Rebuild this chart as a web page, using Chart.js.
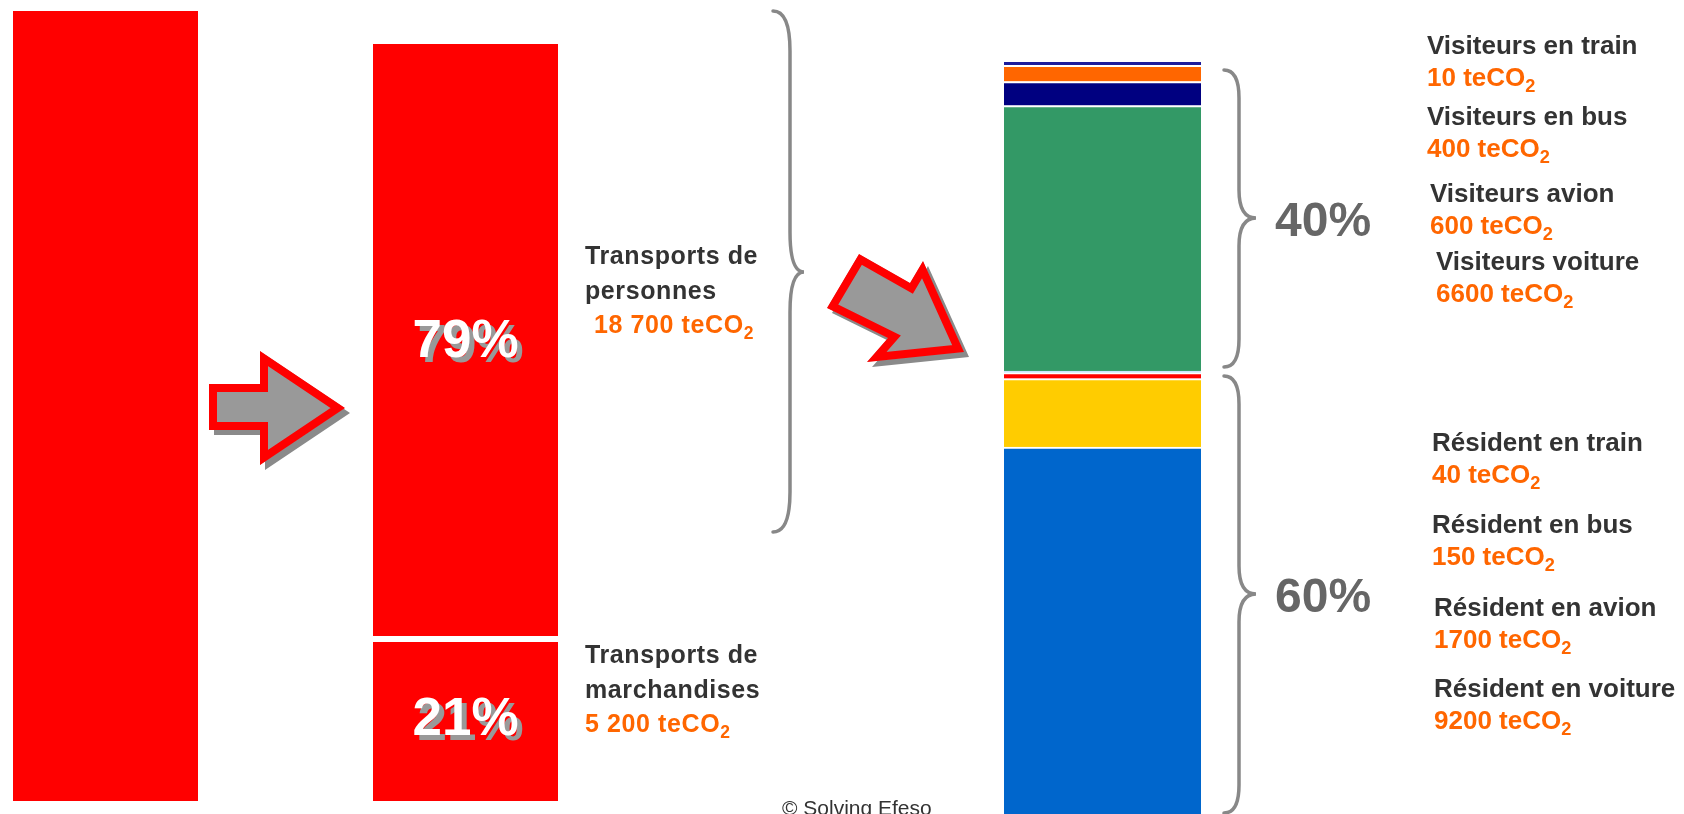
<!DOCTYPE html>
<html lang="fr">
<head>
<meta charset="utf-8">
<title>Transports - teCO2</title>
<script src="https://cdn.jsdelivr.net/npm/chart.js@4/dist/chart.umd.min.js"></script>
<style>
  html, body { margin: 0; padding: 0; background: #fff; }
  body { width: 1684px; height: 814px; overflow: hidden; position: relative;
         font-family: "Liberation Sans", Arial, sans-serif; }
  canvas { position: absolute; top: 0; }
  .lbl { position: absolute; font-weight: bold; white-space: nowrap; color: #333; }
  .val { color: #FF6600; }
  .pct { position: absolute; font-weight: bold; font-size: 48px; line-height: 48px; color: #666; }
  sub { font-size: 0.7em; vertical-align: -0.35em; line-height: 0; }
  svg { position: absolute; left: 0; top: 0; }
  #copy { position: absolute; left: 782px; top: 796px; font-size: 21px; line-height: 24px; color: #333; }
</style>
</head>
<body>
<canvas id="totalChart" width="185" height="814" style="left:13px"></canvas>
<canvas id="splitChart" width="185" height="814" style="left:373px"></canvas>
<canvas id="detailChart" width="197" height="830" style="left:1004px"></canvas>
<svg id="deco" width="1684" height="814"></svg>
<div id="copy">© Solving Efeso</div>

<script>
// ---- data ----
const splitLabels = ['Transports de\npersonnes', 'Transports de\nmarchandises'];
const splitValues = [18700, 5200];
const splitShares = [79, 21];

// bottom-up inside each group
const residentLabels = ['Résident en voiture', 'Résident en avion', 'Résident en bus', 'Résident en train'];
const residentValues = [9200, 1700, 150, 40];
const visitorLabels = ['Visiteurs voiture', 'Visiteurs avion', 'Visiteurs en bus', 'Visiteurs en train'];
const visitorValues = [6600, 600, 400, 10];
const groupShares = [60, 40]; // résidents, visiteurs

// ---- styles / layout ----
const residentColors = ['#0066CC', '#FFCC00', '#FF0000', '#99CCFF'];
const visitorColors = ['#339966', '#000080', '#FF6600', '#1C1C9C'];
const splitTextTops = [238, 637];
const splitTextIndent = [9, 0];
// top-down order: visitors train..voiture, residents train..voiture
const legendSpots = [[1427, 29], [1427, 100], [1430, 177], [1436, 245],
                     [1432, 426], [1432, 508], [1434, 591], [1434, 672]];

const sum = arr => arr.reduce((a, b) => a + b, 0);
const spaced = v => String(v).replace(/\B(?=(\d{3})+(?!\d))/g, ' ');

function baseOptions(max, padTop, padBottom) {
    return {
        responsive: false,
        animation: false,
        events: [],
        layout: { padding: { top: padTop, bottom: padBottom, left: 0, right: 0 } },
        plugins: { legend: { display: false }, tooltip: { enabled: false } },
        scales: {
            x: { display: false, stacked: true },
            y: { display: false, stacked: true, min: 0, max: max }
        }
    };
}

const total = sum(splitValues);

// bar 1 : total
new Chart(document.getElementById('totalChart'), {
    type: 'bar',
    data: {
        labels: ['Total'],
        datasets: [{
            label: 'Total transports',
            data: [total],
            backgroundColor: '#FF0000',
            barPercentage: 1,
            categoryPercentage: 1
        }]
    },
    options: baseOptions(total, 11, 13)
});

// share labels drawn in the middle of each segment, with a grey shadow
const shareLabels = {
    id: 'shareLabels',
    afterDatasetsDraw(chart) {
        const ctx = chart.ctx;
        ctx.save();
        ctx.font = 'bold 53px "Liberation Sans", Arial, sans-serif';
        ctx.textAlign = 'center';
        ctx.textBaseline = 'middle';
        chart.data.datasets.forEach((ds, i) => {
            const bar = chart.getDatasetMeta(i).data[0];
            const cy = (bar.y + bar.base) / 2 + 2;
            const txt = ds.share + '%';
            ctx.fillStyle = '#999999';
            ctx.fillText(txt, bar.x + 5, cy + 5);
            ctx.fillStyle = '#FFFFFF';
            ctx.fillText(txt, bar.x, cy);
        });
        ctx.restore();
    }
};

// bar 2 : personnes / marchandises (bottom-up)
new Chart(document.getElementById('splitChart'), {
    type: 'bar',
    data: {
        labels: ['Répartition'],
        datasets: [1, 0].map(i => ({
            label: splitLabels[i].replace('\n', ' '),
            data: [splitValues[i]],
            share: splitShares[i],
            backgroundColor: '#FF0000',
            borderColor: '#FFFFFF',
            borderWidth: i === 1 ? { top: 6, bottom: 0, left: 0, right: 0 } : 0,
            borderSkipped: false,
            barPercentage: 1,
            categoryPercentage: 1
        }))
    },
    options: baseOptions(total, 44, 13),
    plugins: [shareLabels]
});

// bar 3 : detail of transports de personnes
const detailLabels = residentLabels.concat(visitorLabels);
const detailValues = residentValues.concat(visitorValues);
const detailColors = residentColors.concat(visitorColors);
const persons = sum(detailValues);

const detailChart = new Chart(document.getElementById('detailChart'), {
    type: 'bar',
    data: {
        labels: ['Personnes'],
        datasets: detailValues.map((v, i) => {
            const last = i === detailValues.length - 1;
            return {
                label: detailLabels[i],
                data: [v],
                backgroundColor: detailColors[i],
                borderColor: '#FFFFFF',
                borderWidth: last ? 0 : { top: 2, bottom: 0, left: 0, right: 0 },
                borderSkipped: false,
                minBarLength: last ? 3 : 0,
                clip: false,
                barPercentage: 1,
                categoryPercentage: 1
            };
        })
    },
    options: baseOptions(persons, 65, 13)
});

// ---- text ----
splitLabels.forEach((name, i) => {
    const d = document.createElement('div');
    d.className = 'lbl';
    d.style.cssText = `left:585px;top:${splitTextTops[i]}px;font-size:25px;line-height:34.5px;letter-spacing:0.6px`;
    d.innerHTML = name.replace('\n', '<br>') +
        `<br><span class="val" style="padding-left:${splitTextIndent[i]}px">${spaced(splitValues[i])} teCO<sub>2</sub></span>`;
    document.body.appendChild(d);
});

const legendNames = visitorLabels.slice().reverse().concat(residentLabels.slice().reverse());
const legendValues = visitorValues.slice().reverse().concat(residentValues.slice().reverse());
legendNames.forEach((name, i) => {
    const d = document.createElement('div');
    d.className = 'lbl';
    d.style.cssText = `left:${legendSpots[i][0]}px;top:${legendSpots[i][1]}px;font-size:26px;line-height:32px`;
    d.innerHTML = `${name}<br><span class="val">${legendValues[i]} teCO<sub>2</sub></span>`;
    document.body.appendChild(d);
});

// group extents from the detail chart's own scale
const yScale = detailChart.scales.y;
const resTop = yScale.getPixelForValue(sum(residentValues));
const groups = [
    { top: resTop, bottom: yScale.getPixelForValue(0), share: groupShares[0] },
    { top: yScale.getPixelForValue(persons), bottom: resTop, share: groupShares[1] }
];

function bracePath(L, S, T, y0, ym, y1, r) {
    return `M${L},${y0} Q${S},${y0} ${S},${y0 + r} L${S},${ym - r} Q${S},${ym} ${T},${ym} ` +
           `Q${S},${ym} ${S},${ym + r} L${S},${y1 - r} Q${S},${y1} ${L},${y1}`;
}

function arrow(id, pts) {
    const p = pts.map(q => q.join(',')).join(' ');
    return `<clipPath id="${id}"><polygon points="${p}"/></clipPath>` +
           `<polygon points="${p}" fill="#8a8a8a" transform="translate(5,5)"/>` +
           `<polygon points="${p}" fill="#999999" stroke="#FF0000" stroke-width="16" ` +
           `stroke-linejoin="miter" clip-path="url(#${id})"/>`;
}

let svg = '';
svg += `<path d="${bracePath(773, 790, 804, 11, 272, 532, 40)}" fill="none" stroke="#888" stroke-width="3.5" stroke-linecap="round"/>`;
groups.forEach(g => {
    const mid = (g.top + g.bottom) / 2;
    svg += `<path d="${bracePath(1224, 1239, 1256, g.top + 5, mid, g.bottom - 4, 28)}" fill="none" stroke="#888" stroke-width="3.5" stroke-linecap="round"/>`;
    const p = document.createElement('div');
    p.className = 'pct';
    p.style.left = '1275px';
    p.style.top = (mid - 22) + 'px';
    p.textContent = g.share + '%';
    document.body.appendChild(p);
});
svg += arrow('a1', [[209, 384], [260, 384], [260, 351], [345, 408], [260, 465], [260, 430], [209, 430]]);
svg += arrow('a2', [[859, 254], [910, 283], [923, 261], [964, 352], [867, 362], [888, 338], [827, 308]]);
document.getElementById('deco').innerHTML = svg;
</script>
</body>
</html>
